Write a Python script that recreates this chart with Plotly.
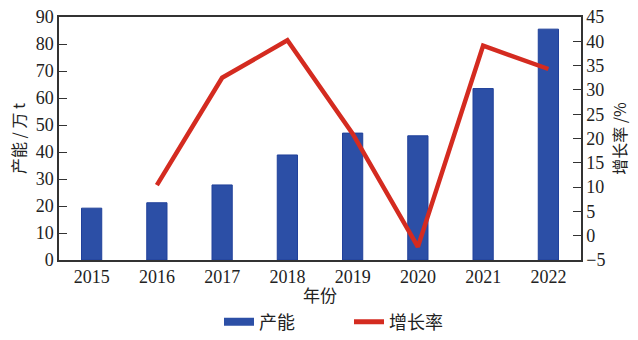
import plotly.graph_objects as go

years = ["2015", "2016", "2017", "2018", "2019", "2020", "2021", "2022"]
capacity = [19.2, 21.2, 27.8, 38.9, 47.0, 46.0, 63.5, 85.5]
growth = [None, 10.4, 32.5, 40.2, 21.0, -2.3, 39.1, 34.3]
label_years = ["2021", "2022"]
label_values = [63.5, 85.5]
label_texts = ["61.8", "85.0"]

BLUE = "#2c4fa6"
RED = "#d42b20"
FONT = "Liberation Serif, Times New Roman, serif"
CJK = "Noto Sans CJK SC, sans-serif"

fig = go.Figure()
fig.add_trace(go.Bar(
    x=years, y=capacity, width=0.31,
    marker=dict(color=BLUE, line=dict(color="#20409a", width=1)),
    showlegend=False, yaxis="y",
))
fig.add_trace(go.Scatter(
    x=years, y=growth, mode="lines", yaxis="y2",
    line=dict(color=RED, width=4.5), showlegend=False,
))
# legend entries
fig.add_trace(go.Scatter(x=[years[0]], y=[None], mode="lines", name="产能",
                         line=dict(color=BLUE, width=8)))
fig.add_trace(go.Scatter(x=[years[0]], y=[None], mode="lines", name="增长率",
                         line=dict(color=RED, width=5)))

shifts = [(10, 12), (-32, -10)]
for yr, v, t, (dx, dy) in zip(label_years, label_values, label_texts, shifts):
    fig.add_annotation(x=yr, y=v, text=t, showarrow=False, xref="x", yref="y",
                       xshift=dx, yshift=dy, font=dict(family=FONT, size=18, color="#222"))

# x-axis title
fig.add_annotation(x=0.5, y=-0.144, xref="paper", yref="paper", text="年份",
                   showarrow=False, yanchor="middle", xanchor="center",
                   font=dict(family=CJK, size=17, color="#222"))

fig.update_layout(
    width=638, height=340,
    margin=dict(l=59, r=57, t=17, b=80, autoexpand=False),
    paper_bgcolor="white", plot_bgcolor="white",
    font=dict(family=FONT, size=18, color="#222"),
    xaxis=dict(
        type="category", categoryorder="array", categoryarray=years, range=[-0.5, 7.5],
        showline=True, linecolor="#333", linewidth=1.5, mirror=True, automargin=False,
        ticks="", showgrid=False, tickfont=dict(family=FONT, size=18),
    ),
    yaxis=dict(
        range=[0, 90], dtick=10, showline=True, linecolor="#333", linewidth=1.5,
        ticks="inside", ticklen=8, tickcolor="#333", showgrid=False, zeroline=False,
        automargin=False, tickfont=dict(family=FONT, size=18),
        title=dict(text="产能 / 万 t", font=dict(family=CJK, size=16), standoff=6),
    ),
    yaxis2=dict(
        range=[-5, 45], dtick=5, overlaying="y", side="right", showline=True,
        linecolor="#333", linewidth=1.5, ticks="inside", ticklen=8, tickcolor="#333",
        showgrid=False, zeroline=False, automargin=False, tickfont=dict(family=FONT, size=18),
        title=dict(text="增长率 /%", font=dict(family=CJK, size=16), standoff=10),
    ),
    legend=dict(orientation="h", x=(219 - 59) / 522, xanchor="left", y=-0.255,
                yanchor="middle", font=dict(family=CJK, size=18), entrywidth=85,
                entrywidthmode="pixels", bgcolor="rgba(0,0,0,0)"),
)

fig.write_html("out.html")
